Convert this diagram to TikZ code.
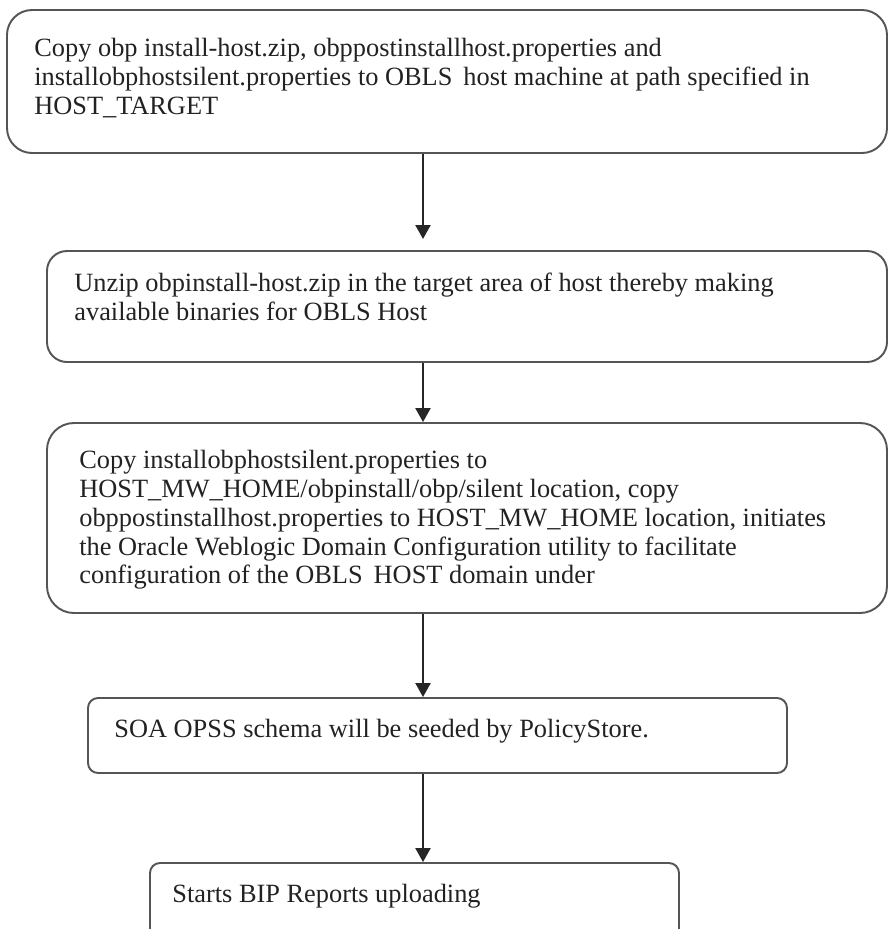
\documentclass[tikz,border=0pt]{standalone}
\usepackage{fontspec}
\setmainfont{Liberation Serif}
\usetikzlibrary{arrows.meta}
\definecolor{boxline}{HTML}{555555}
\definecolor{inkgray}{HTML}{222222}
\begin{document}
\begin{tikzpicture}[
	stepbox/.style={draw=boxline, line width=1.1pt},
	steptext/.style={anchor=north west, inner sep=0pt, align=left, text=inkgray,
		font=\fontsize{15}{16.4}\selectfont},
	flow/.style={draw=black!85, line width=1.3pt, -{Triangle[width=0.3cm,length=0.28cm]}}
]
	\clip (0,0) rectangle (17.76,-18.58);
	\coordinate (ax) at (8.46,0);

	% step 1
	\node[stepbox, rounded corners=0.5cm, minimum width=17.6cm, minimum height=2.86cm] (copy) at (8.94,-1.63) {};
	\node[steptext] (copytext) at ([xshift=0.56cm,yshift=-0.58cm]copy.north west)
		{Copy obp install-host.zip, obppostinstallhost.properties and\\
		installobphostsilent.properties to OBLS\, host machine at path specified in\\
		HOST\_TARGET};

	% step 2
	\node[stepbox, rounded corners=0.4cm, minimum width=16.8cm, minimum height=2.22cm] (unzip) at (9.34,-6.13) {};
	\node[steptext] (unziptext) at ([xshift=0.56cm,yshift=-0.45cm]unzip.north west)
		{Unzip obpinstall-host.zip in the target area of host thereby making\\
		available binaries for OBLS Host};

	% step 3
	\node[stepbox, rounded corners=0.54cm, minimum width=16.8cm, minimum height=3.8cm] (config) at (9.34,-10.36) {};
	\node[steptext] (configtext) at ([xshift=0.66cm,yshift=-0.56cm]config.north west)
		{Copy installobphostsilent.properties to\\
		HOST\_MW\_HOME/obpinstall/obp/silent location, copy\\
		obppostinstallhost.properties to HOST\_MW\_HOME location, initiates\\
		the Oracle Weblogic Domain Configuration utility to facilitate\\
		configuration of the OBLS\, HOST domain under};

	% step 4
	\node[stepbox, rounded corners=0.2cm, minimum width=13.98cm, minimum height=1.5cm] (seed) at (8.75,-14.71) {};
	\node[steptext] (seedtext) at ([xshift=0.54cm,yshift=-0.44cm]seed.north west)
		{SOA OPSS schema will be seeded by PolicyStore.};

	% step 5
	\node[stepbox, rounded corners=0.2cm, minimum width=10.58cm, minimum height=2.04cm] (bip) at (8.29,-18.28) {};
	\node[steptext] (biptext) at ([xshift=0.46cm,yshift=-0.44cm]bip.north west)
		{Starts BIP Reports uploading};

	\coordinate (gap) at (8.46,-4.78);
	\draw[flow] (copy.south -| ax) -- (gap);
	\draw[flow] (unzip.south -| ax) -- (config.north -| ax);
	\draw[flow] (config.south -| ax) -- (seed.north -| ax);
	\draw[flow] (seed.south -| ax) -- (bip.north -| ax);
\end{tikzpicture}
\end{document}
